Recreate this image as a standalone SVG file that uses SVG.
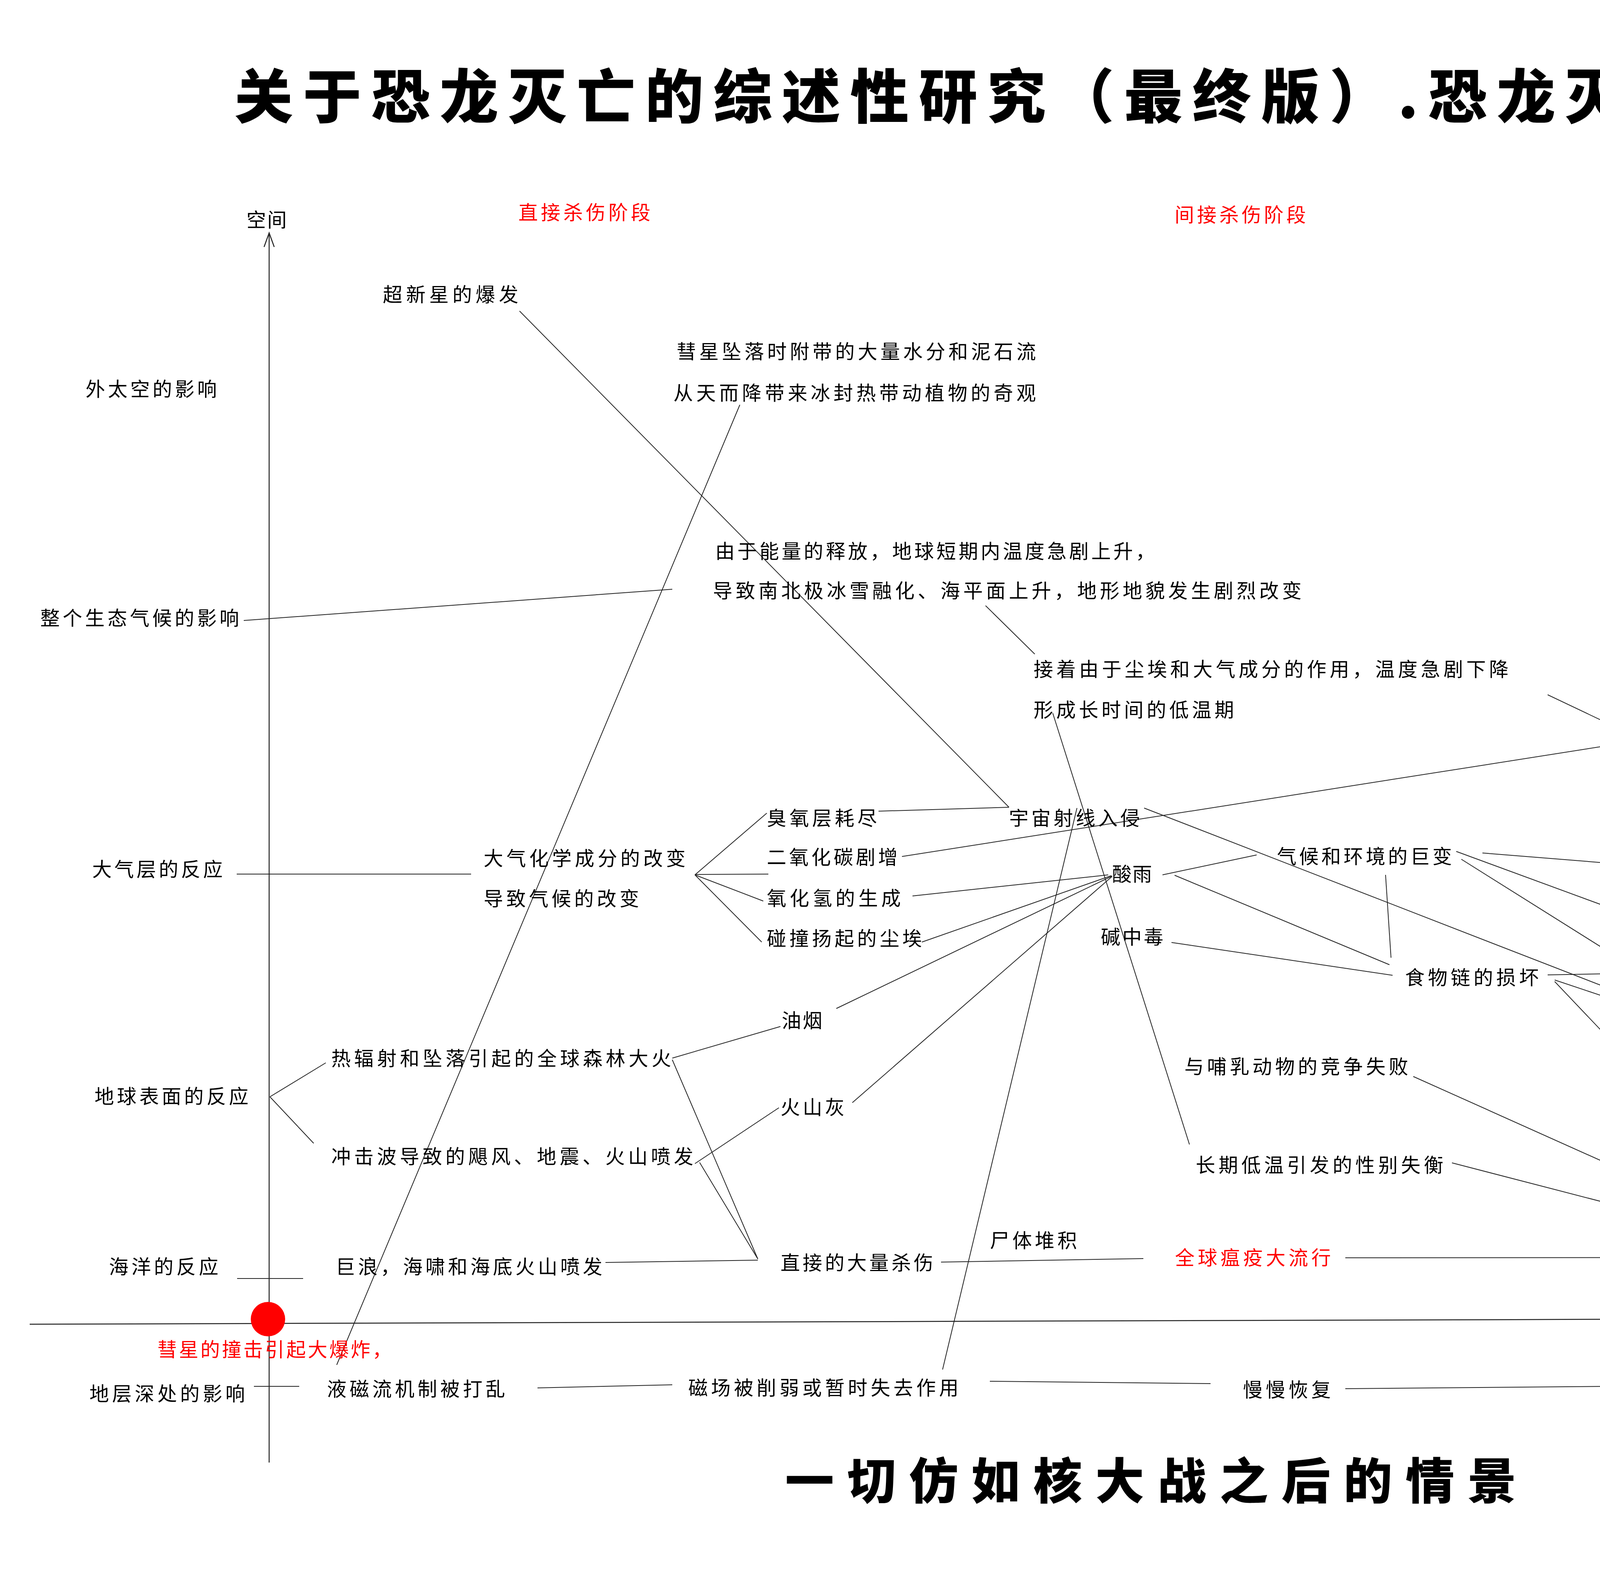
<svg xmlns="http://www.w3.org/2000/svg" width="5683" height="4082" viewBox="0 0 5683 4082">
<style>
text{font-family:"Noto Sans CJK SC","Noto Sans",sans-serif;font-size:50px;fill:#000;}
.r{fill:#ff0000;}
.title{font-size:150px;font-weight:900;}
.sub{font-size:125px;font-weight:900;}
.big{font-size:82px;font-weight:900;}
.sig{font-size:22px;}
.c line,.c polyline{stroke:#222;stroke-width:2;fill:none;}
.ax{stroke:#222;stroke-width:2.5;fill:none;}
</style>
<rect width="5683" height="4082" fill="#fff"/>

<g id="axes">
<line class="ax" x1="689" y1="597" x2="689" y2="3743"/>
<polyline class="ax" points="676,632 689,596 702,632"/>
<line class="ax" x1="76" y1="3389" x2="5224" y2="3373"/>
<polyline class="ax" points="5190,3352 5225,3373 5190,3394"/>
<circle cx="686" cy="3376" r="44" fill="#ff0000"/>
</g>

<g id="connectors" class="c">
<line x1="624" y1="1588" x2="1721" y2="1508"/>
<line x1="606" y1="2237" x2="1206" y2="2237"/>
<line x1="691" y1="2807" x2="834" y2="2720"/>
<line x1="691" y1="2807" x2="803" y2="2926"/>
<line x1="607" y1="3272" x2="776" y2="3272"/>
<line x1="650" y1="3548" x2="766" y2="3548"/>
<line x1="1330" y1="796" x2="2583" y2="2066"/>
<line x1="1894" y1="1036" x2="862" y2="3493"/>
<line x1="2523" y1="1550" x2="2649" y2="1674"/>
<line x1="1779" y1="2239" x2="1963" y2="2081"/>
<line x1="1779" y1="2238" x2="1967" y2="2237"/>
<line x1="1779" y1="2239" x2="1954" y2="2306"/>
<line x1="1779" y1="2239" x2="1950" y2="2411"/>
<line x1="2249" y1="2076" x2="2583" y2="2066"/>
<line x1="2309" y1="2192" x2="4206" y2="1894"/>
<line x1="4206" y1="1894" x2="3962" y2="1778"/>
<line x1="2336" y1="2293" x2="2837" y2="2239"/>
<line x1="2360" y1="2411" x2="2845" y2="2241"/>
<line x1="2141" y1="2581" x2="2847" y2="2242"/>
<line x1="2182" y1="2822" x2="2847" y2="2243"/>
<line x1="1721" y1="2708" x2="1998" y2="2627"/>
<line x1="1779" y1="2978" x2="1994" y2="2835"/>
<line x1="1721" y1="2712" x2="1940" y2="3222"/>
<line x1="1791" y1="2975" x2="1940" y2="3222"/>
<line x1="1550" y1="3231" x2="1940" y2="3225"/>
<line x1="2409" y1="3230" x2="2927" y2="3221"/>
<line x1="3444" y1="3219" x2="4651" y2="3218"/>
<line x1="3618" y1="2755" x2="4651" y2="3218"/>
<line x1="3717" y1="2976" x2="4651" y2="3218"/>
<line x1="3980" y1="2512" x2="4651" y2="3218"/>
<line x1="2929" y1="2068" x2="4545" y2="2695"/>
<line x1="3795" y1="2183" x2="4479" y2="2238"/>
<line x1="3728" y1="2179" x2="4575" y2="2490"/>
<line x1="3741" y1="2199" x2="4539" y2="2700"/>
<line x1="2976" y1="2239" x2="3217" y2="2188"/>
<line x1="3007" y1="2240" x2="3557" y2="2469"/>
<line x1="2999" y1="2412" x2="3565" y2="2496"/>
<line x1="3547" y1="2239" x2="3561" y2="2451"/>
<line x1="3962" y1="2495" x2="4569" y2="2483"/>
<line x1="3980" y1="2508" x2="4563" y2="2703"/>
<line x1="4785" y1="2313" x2="4737" y2="2446"/>
<line x1="5039" y1="2305" x2="5211" y2="2678"/>
<line x1="4875" y1="2510" x2="5199" y2="2676"/>
<line x1="4698" y1="2715" x2="5199" y2="2694"/>
<line x1="1376" y1="3552" x2="1721" y2="3544"/>
<line x1="2534" y1="3535" x2="3099" y2="3541"/>
<line x1="3444" y1="3554" x2="4582" y2="3544"/>
<line x1="2413" y1="3505" x2="2757" y2="2068"/>
<line x1="2695" y1="1825" x2="3045" y2="2929"/>
</g>

<g id="title"><text class="title" x="600" y="302" textLength="4783" lengthAdjust="spacing">关于恐龙灭亡的综述性研究（最终版）.恐龙灭绝的全程示意图</text></g>
<g id="n-kongjian"><text x="631" y="581" textLength="103" lengthAdjust="spacing">空间</text></g>
<g id="n-stage1"><text class="r" x="1327" y="562" textLength="338" lengthAdjust="spacing">直接杀伤阶段</text></g>
<g id="n-stage2"><text class="r" x="3007" y="568" textLength="336" lengthAdjust="spacing">间接杀伤阶段</text></g>
<g id="n-stage3"><text class="r" x="4672" y="566" textLength="218" lengthAdjust="spacing">最后结局</text></g>
<g id="n-supernova"><text x="980" y="772" textLength="347" lengthAdjust="spacing">超新星的爆发</text></g>
<g id="n-comet-water">
<text x="1732" y="918" textLength="920" lengthAdjust="spacing">彗星坠落时附带的大量水分和泥石流</text>
<text x="1724" y="1024" textLength="928" lengthAdjust="spacing">从天而降带来冰封热带动植物的奇观</text>
</g>
<g id="n-space"><text x="219" y="1014" textLength="336" lengthAdjust="spacing">外太空的影响</text></g>
<g id="n-energy">
<text x="1831" y="1429" textLength="1126" lengthAdjust="spacing">由于能量的释放，地球短期内温度急剧上升，</text>
<text x="1825" y="1530" textLength="1507" lengthAdjust="spacing">导致南北极冰雪融化、海平面上升，地形地貌发生剧烈改变</text>
</g>
<g id="n-eco"><text x="103" y="1600" textLength="509" lengthAdjust="spacing">整个生态气候的影响</text></g>
<g id="n-cold">
<text x="2646" y="1731" textLength="1216" lengthAdjust="spacing">接着由于尘埃和大气成分的作用，温度急剧下降</text>
<text x="2646" y="1835" textLength="513" lengthAdjust="spacing">形成长时间的低温期</text>
</g>
<g id="n-warm">
<text x="4268" y="1832" textLength="661" lengthAdjust="spacing">随着尘埃下降和温室效应，</text>
<text x="4268" y="1934" textLength="983" lengthAdjust="spacing">很久以后温度慢慢上升，最后趋于平衡</text>
</g>
<g id="n-ozone"><text x="1963" y="2112" textLength="282" lengthAdjust="spacing">臭氧层耗尽</text></g>
<g id="n-cosmic"><text x="2583" y="2112" textLength="335" lengthAdjust="spacing">宇宙射线入侵</text></g>
<g id="n-chem">
<text x="1238" y="2215" textLength="517" lengthAdjust="spacing">大气化学成分的改变</text>
<text x="1238" y="2318" textLength="398" lengthAdjust="spacing">导致气候的改变</text>
</g>
<g id="n-atmo"><text x="236" y="2243" textLength="334" lengthAdjust="spacing">大气层的反应</text></g>
<g id="n-co2"><text x="1963" y="2212" textLength="335" lengthAdjust="spacing">二氧化碳剧增</text></g>
<g id="n-hox"><text x="1963" y="2317" textLength="343" lengthAdjust="spacing">氧化氢的生成</text></g>
<g id="n-dust"><text x="1963" y="2420" textLength="397" lengthAdjust="spacing">碰撞扬起的尘埃</text></g>
<g id="n-acid"><text x="2847" y="2255" textLength="102" lengthAdjust="spacing">酸雨</text></g>
<g id="n-alkali"><text x="2818" y="2416" textLength="160" lengthAdjust="spacing">碱中毒</text></g>
<g id="n-climate"><text x="3269" y="2210" textLength="448" lengthAdjust="spacing">气候和环境的巨变</text></g>
<g id="n-food"><text x="3597" y="2520" textLength="342" lengthAdjust="spacing">食物链的损坏</text></g>
<g id="n-deep"><text x="4521" y="2278" textLength="862" lengthAdjust="spacing">深山、深海、洞穴类种类可能幸存</text></g>
<g id="n-migrate"><text x="4581" y="2514" textLength="282" lengthAdjust="spacing">迁徙、躲避</text></g>
<g id="n-mutate"><text x="4569" y="2734" textLength="98" lengthAdjust="spacing">变异</text></g>
<g id="n-survive"><text x="5199" y="2719" textLength="100" lengthAdjust="spacing">幸存</text></g>
<g id="n-smoke"><text x="2001" y="2630" textLength="104" lengthAdjust="spacing">油烟</text></g>
<g id="n-fire"><text x="848" y="2727" textLength="870" lengthAdjust="spacing">热辐射和坠落引起的全球森林大火</text></g>
<g id="n-mammal"><text x="3032" y="2748" textLength="573" lengthAdjust="spacing">与哺乳动物的竞争失败</text></g>
<g id="n-surface"><text x="242" y="2824" textLength="394" lengthAdjust="spacing">地球表面的反应</text></g>
<g id="n-ash"><text x="1998" y="2852" textLength="164" lengthAdjust="spacing">火山灰</text></g>
<g id="n-shock"><text x="848" y="2978" textLength="927" lengthAdjust="spacing">冲击波导致的飓风、地震、火山喷发</text></g>
<g id="n-gender"><text x="3061" y="3000" textLength="634" lengthAdjust="spacing">长期低温引发的性别失衡</text></g>
<g id="n-corpse"><text x="2534" y="3193" textLength="223" lengthAdjust="spacing">尸体堆积</text></g>
<g id="n-plague"><text class="r" x="3008" y="3237" textLength="399" lengthAdjust="spacing">全球瘟疫大流行</text></g>
<g id="n-kill"><text x="1998" y="3250" textLength="391" lengthAdjust="spacing">直接的大量杀伤</text></g>
<g id="n-ocean"><text x="279" y="3260" textLength="280" lengthAdjust="spacing">海洋的反应</text></g>
<g id="n-wave"><text x="859" y="3260" textLength="683" lengthAdjust="spacing">巨浪，海啸和海底火山喷发</text></g>
<g id="n-extinct"><text class="big" x="4650" y="3262" textLength="180" lengthAdjust="spacing">灭绝</text></g>
<g id="n-time"><text x="5244" y="3392" textLength="101" lengthAdjust="spacing">时间</text></g>
<g id="n-impact"><text class="r" x="403" y="3472" textLength="600" lengthAdjust="spacing">彗星的撞击引起大爆炸，</text></g>
<g id="n-stratum"><text x="229" y="3585" textLength="398" lengthAdjust="spacing">地层深处的影响</text></g>
<g id="n-liquid"><text x="837" y="3573" textLength="456" lengthAdjust="spacing">液磁流机制被打乱</text></g>
<g id="n-magnet"><text x="1762" y="3570" textLength="692" lengthAdjust="spacing">磁场被削弱或暂时失去作用</text></g>
<g id="n-recover"><text x="3182" y="3575" textLength="225" lengthAdjust="spacing">慢慢恢复</text></g>
<g id="n-balance"><text x="4618" y="3562" textLength="227" lengthAdjust="spacing">趋向平衡</text></g>
<g id="n-subtitle"><text class="sub" x="2010" y="3836" textLength="1872" lengthAdjust="spacing">一切仿如核大战之后的情景</text></g>
<g id="n-sign"><text class="sig" x="4663" y="3800" textLength="444" lengthAdjust="spacing">拼大象的人  nnluhao  最终版第三次重制</text></g>
</svg>
